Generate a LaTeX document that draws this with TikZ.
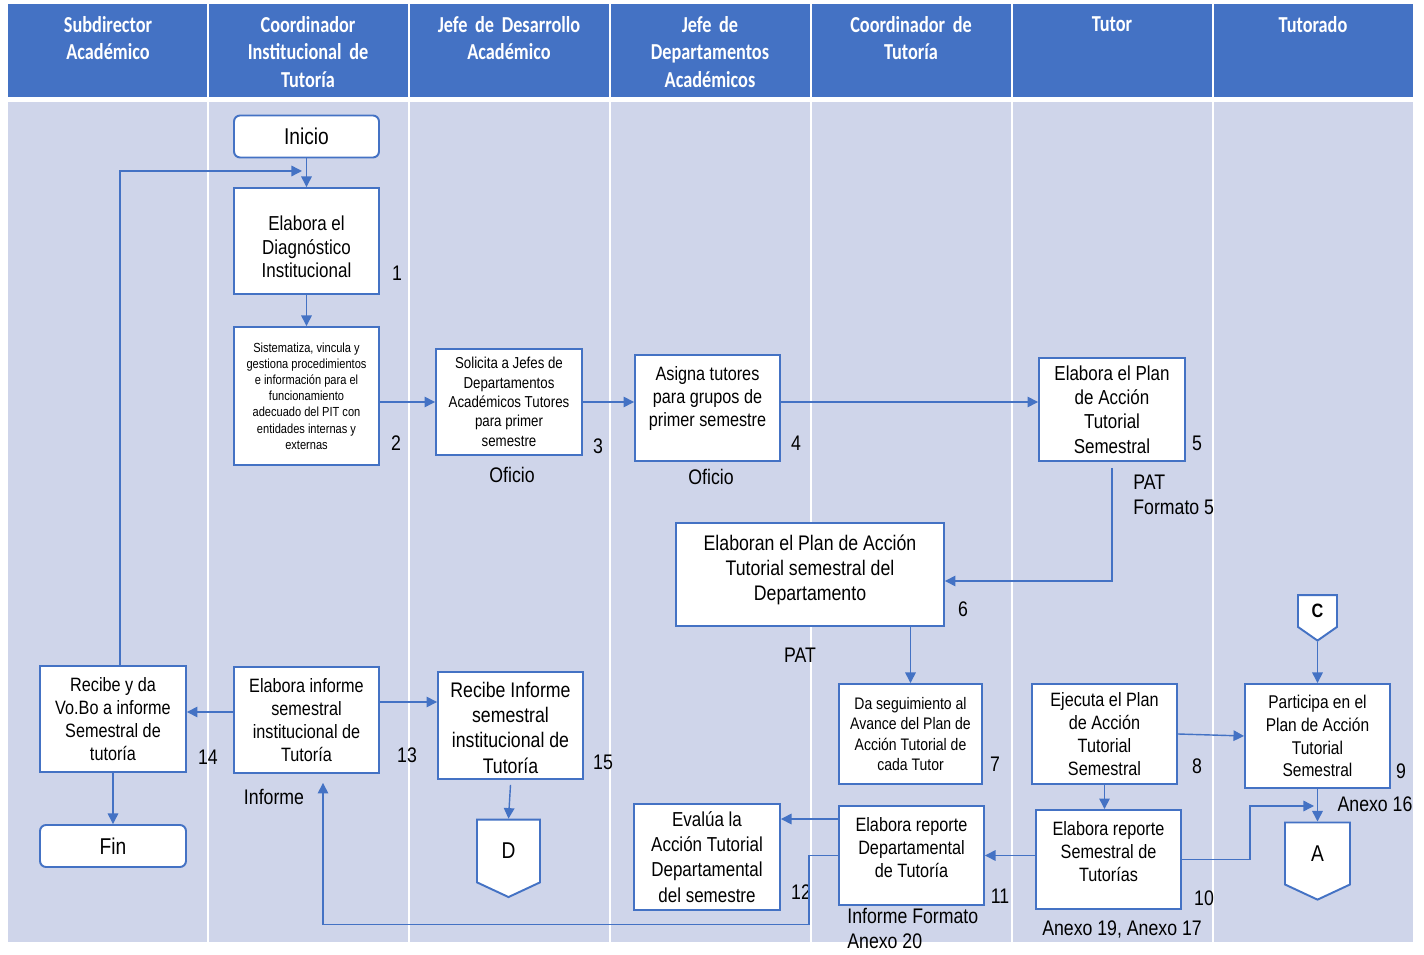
\documentclass[tikz,border=0pt]{standalone}
\usepackage{fontspec}
\setmainfont{Liberation Sans}[FakeStretch=0.84]
\newfontfamily\headfont{Carlito}[FakeStretch=0.8, WordSpace=0.5]
\usepackage{xcolor}
\usetikzlibrary{arrows.meta,positioning,shapes.symbols}
\definecolor{laneblue}{RGB}{68,114,196}
\definecolor{lanebg}{RGB}{207,213,234}

\begin{document}
\begin{tikzpicture}[x=0.02cm, y=-0.02cm,
  head/.style={anchor=north, text=white, align=center, text width=3.8cm, font=\headfont\bfseries\fontsize{13}{15.6}\selectfont},
  box/.style={draw=laneblue, line width=1.1pt, fill=white, align=center, inner sep=1pt, minimum width=2.9cm, minimum height=2.12cm, font=\fontsize{11}{13}\selectfont},
  term/.style={box, rounded corners=0.12cm, minimum height=0.84cm, font=\fontsize{13}{15}\selectfont},
  conn/.style={draw=laneblue, line width=1.1pt, fill=white, shape=signal, signal to=south, signal from=nowhere, signal pointer angle=130, inner sep=0pt, font=\fontsize{13}{15}\selectfont},
  lbl/.style={align=left, inner sep=0pt, font=\fontsize{12}{14}\selectfont},
  flow/.style={draw=laneblue, line width=0.8pt, -{Triangle[length=6pt,width=6pt]}}]
\useasboundingbox (0,0) rectangle (1424,955);
\fill[laneblue] (8,4) rectangle (1413,97);
\fill[lanebg] (8,102) rectangle (1413,942);
\foreach \lx in {208,409,610,811,1012,1213}
  \draw[white, line width=1.2pt] (\lx,4) -- (\lx,942);

\foreach \cx/\txt in {108/{Subdirector\\Académico}, 308/{Coordinador\\Institucional de\\Tutoría},
    509/{Jefe de Desarrollo\\Académico}, 710/{Jefe de\\Departamentos\\Académicos},
    911/{Coordinador de\\Tutoría}, 1112/{Tutor}, 1313/{Tutorado}}
  \node[head] (h\cx) at (\cx,10) {\txt};

\node[term] (inicio) at (306.5,136.5) {Inicio};
\node[box, font=\fontsize{11.5}{13.6}\selectfont] (diag) at (306.5,241) {\rule{0pt}{15pt}Elabora el\\Diagnóstico\\Institucional};
\node[box, minimum height=2.76cm, font=\fontsize{7.5}{9.2}\selectfont] (sist) at (306.5,396)
  {Sistematiza, vincula y\\gestiona procedimientos\\e información para el\\funcionamiento\\adecuado del PIT con\\entidades internas y\\externas};
\node[box, minimum width=2.92cm, font=\fontsize{9}{11}\selectfont] (solic) at (509,402)
  {Solicita a Jefes de\\Departamentos\\Académicos Tutores\\para primer\\semestre};
\node[box] (asigna) at (707.5,408) {Asigna tutores\\para grupos de\\primer semestre\\[0pt]};
\node[box, minimum width=2.92cm, minimum height=2.06cm, font=\fontsize{11.5}{13.8}\selectfont] (plan) at (1112,409.5)
  {Elabora el Plan\\de Acción\\Tutorial\\Semestral};
\node[box, minimum width=5.36cm, minimum height=2.06cm, font=\fontsize{12}{14.2}\selectfont] (elaboran) at (810,574.5)
  {Elaboran el Plan de Acción\\Tutorial semestral del\\Departamento\\[-6pt]};
\node[box, minimum width=2.86cm, minimum height=2cm, font=\fontsize{9.5}{11.7}\selectfont] (seguim) at (910.5,734)
  {Da seguimiento al\\Avance del Plan de\\Acción Tutorial de\\cada Tutor};
\node[box, minimum height=2cm] (ejecuta) at (1104.5,734) {Ejecuta el Plan\\de Acción\\Tutorial\\Semestral};
\node[conn, minimum width=0.78cm, minimum height=0.72cm, signal pointer angle=110, font=\bfseries\fontsize{11}{13}\selectfont] (conC) at (1317.5,611) {C};
\node[box, minimum height=2.08cm, font=\fontsize{10.5}{13}\selectfont] (particip) at (1317.5,736)
  {Participa en el\\Plan de Acción\\Tutorial\\Semestral};
\node[conn, minimum width=1.3cm, minimum height=1.3cm] (conA) at (1317.5,853.5) {A};
\node[box, minimum height=1.98cm] (repsem) at (1108.5,859.5) {Elabora reporte\\Semestral de\\Tutorías\\[-4pt]};
\node[box, minimum height=1.98cm] (repdep) at (911.5,855.5) {Elabora reporte\\Departamental\\de Tutoría\\[-4pt]};
\node[box, minimum width=2.92cm, font=\fontsize{11.5}{14.4}\selectfont] (evalua) at (707,857)
  {Evalúa la\\Acción Tutorial\\Departamental\\del semestre};
\node[box, minimum width=2.92cm] (vobo) at (113,719) {Recibe y da\\Vo.Bo a informe\\Semestral de\\tutoría};
\node[box] (informe) at (306.5,720) {Elabora informe\\semestral\\institucional de\\Tutoría};
\node[box, minimum height=2.14cm, font=\fontsize{12}{14.4}\selectfont] (recibe) at (510.5,725.5)
  {\rule{0pt}{11pt}Recibe Informe\\semestral\\institucional de\\Tutoría};
\node[conn, minimum width=1.26cm, minimum height=1.32cm] (conD) at (508.5,851) {D};
\node[term, minimum width=2.92cm] (fin) at (113,846) {Fin};

\node[lbl] (n1) at (397,273) {1};
\node[lbl] (n2) at (396,443) {2};
\node[lbl] (n3) at (598,446) {3};
\node[lbl] (of3) at (512,475) {Oficio};
\node[lbl] (n4) at (796,443) {4};
\node[lbl] (of4) at (711,477) {Oficio};
\node[lbl] (n5) at (1197,443) {5};
\node[lbl, anchor=north west, font=\fontsize{12}{14.2}\selectfont] (pat5) at (1133,475) {PAT\\Formato 5};
\node[lbl] (n6) at (963,609) {6};
\node[lbl] (pat6) at (800,655) {PAT};
\node[lbl] (n7) at (995,764) {7};
\node[lbl] (n8) at (1197,766) {8};
\node[lbl] (n9) at (1401,771) {9};
\node[lbl] (ax16) at (1375,804) {Anexo 16};
\node[lbl] (n10) at (1204,898) {10};
\node[lbl] (ax19) at (1122,929) {Anexo 19, Anexo 17};
\node[lbl] (n11) at (1000,896) {11};
\node[lbl, anchor=north west, font=\fontsize{12}{14.2}\selectfont] (ax20) at (847,908) {Informe Formato\\Anexo 20};
\node[lbl] (n12) at (801,892) {12};
\node[lbl] (n14) at (208,757) {14};
\node[lbl] (n13) at (407,755) {13};
\node[lbl] (inf13) at (274,797) {Informe};
\node[lbl] (n15) at (603,762) {15};

\coordinate (back) at (302,171);
\coordinate (aIn) at (1314,806);

\draw[flow] (inicio) -- (diag);
\draw[flow] ([xshift=0.14cm]vobo.north) |- (back);
\draw[flow] (diag) -- (sist);
\draw[flow] (sist.east |- solic) -- (solic.west);
\draw[flow] (solic.east) -- (asigna.west |- solic.east);
\draw[flow] (asigna.east |- solic.east) -- (plan.west |- solic.east);
\draw[flow] ([yshift=-0.12cm]plan.south) |- ([yshift=-0.13cm]elaboran.east);
\draw[flow] (elaboran.south -| seguim) -- (seguim.north);
\draw[flow] (conC.south) -- (particip.north);
\draw[flow] (ejecuta.east) -- (particip.west);
\draw[flow] (ejecuta.south) -- (repsem.north -| ejecuta.south);
\draw[flow] (particip.south) -- (conA.north);
\draw[flow] (repsem.east) -- ++(68,0) |- (aIn);
\draw[flow] (repsem.west |- repdep.east) -- (repdep.east);
\draw[flow] ([yshift=0.73cm]repdep.west) -- ([yshift=0.73cm]repdep.west -| evalua.east);
\draw[flow] (repdep.west) -- ++(-29,0) -- ++(0,69) -| ([xshift=0.33cm,yshift=-0.18cm]informe.south);
\draw[flow] ([yshift=0.36cm]informe.east) -- ([yshift=0.36cm]informe.east -| recibe.west);
\draw[flow] ([yshift=0.16cm]informe.west) -- ([yshift=0.16cm]informe.west -| vobo.east);
\draw[flow] (vobo) -- (fin);
\draw[flow] ([yshift=-0.1cm]recibe.south) -- (conD.north);
\end{tikzpicture}
\end{document}
